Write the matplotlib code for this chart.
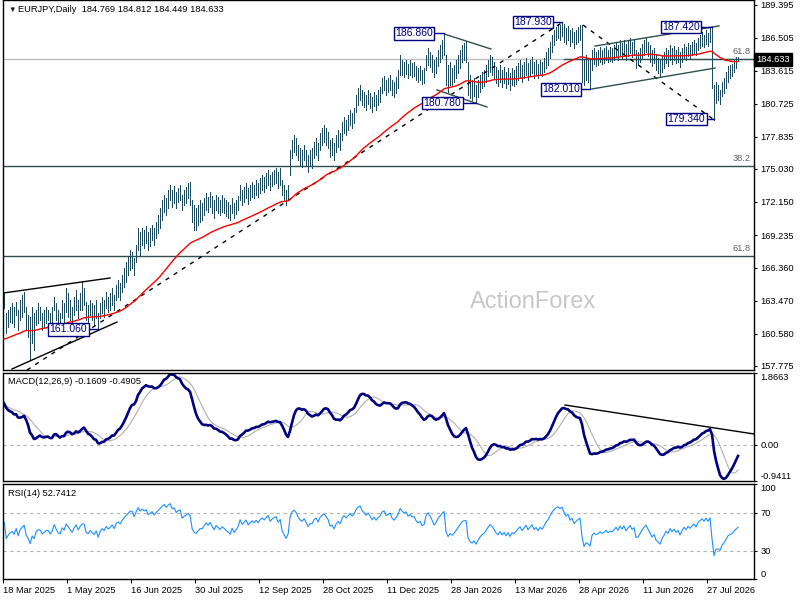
import matplotlib
matplotlib.use("Agg")
import matplotlib.pyplot as plt
import matplotlib.transforms as mtransforms
import numpy as np

plt.rcParams['font.family'] = ['Liberation Sans', 'DejaVu Sans']

# daily EURJPY bars, 18 Mar 2025 .. Aug 2026
highs = [
    164.16, 162.41, 162.67, 162.94, 163.29, 162.94, 163.37, 162.67, 163.55, 163.99, 164.25, 162.94, 162.24, 162.06, 162.94, 162.41,
    162.67, 163.29, 162.94, 162.41, 162.67, 162.94, 162.67, 162.41, 162.94, 163.81, 163.29, 162.67, 162.41, 163.55, 163.29, 164.60,
    164.16, 163.55, 162.94, 163.81, 164.43, 163.55, 164.16, 165.13, 164.60, 163.37, 163.11, 163.55, 163.29, 163.11, 163.55, 162.41,
    163.29, 163.81, 163.55, 164.25, 163.81, 164.16, 164.60, 163.99, 164.87, 165.31, 165.04, 165.74, 166.35, 166.88, 167.32, 167.93,
    167.75, 167.23, 168.37, 169.86, 169.51, 169.86, 169.69, 170.03, 169.51, 169.86, 170.12, 169.86, 170.38, 171.00, 171.61, 172.31,
    172.75, 172.48, 173.19, 173.62, 173.19, 173.54, 173.01, 173.36, 173.62, 172.75, 173.19, 173.45, 173.80, 173.89, 172.31, 171.87,
    171.61, 171.87, 172.31, 172.05, 172.48, 172.92, 172.57, 173.01, 172.66, 172.31, 172.75, 172.57, 172.31, 172.75, 172.48, 172.31,
    172.14, 171.87, 172.48, 172.05, 172.31, 172.66, 173.62, 173.19, 173.45, 173.80, 173.36, 173.62, 173.89, 173.62, 174.06, 173.80,
    174.24, 174.50, 174.33, 174.68, 174.94, 174.50, 174.76, 174.94, 175.11, 174.76, 175.11, 174.06, 173.62, 173.19, 173.62, 176.69,
    177.57, 178.00, 177.74, 177.13, 176.86, 176.69, 177.13, 176.69, 176.25, 176.69, 176.86, 177.39, 177.74, 177.30, 178.18, 178.62,
    178.88, 178.62, 178.27, 177.57, 177.74, 177.30, 178.00, 178.44, 178.18, 179.14, 179.58, 179.32, 179.76, 180.19, 179.93, 180.37,
    181.51, 182.12, 182.39, 181.95, 181.77, 181.51, 181.95, 181.68, 181.33, 181.77, 181.51, 181.95, 182.21, 183.00, 183.17, 182.82,
    183.00, 183.26, 182.82, 182.65, 183.09, 183.70, 185.01, 184.57, 184.40, 184.57, 184.22, 184.57, 184.31, 184.40, 184.05, 183.87,
    184.05, 183.70, 183.87, 185.01, 185.63, 185.28, 185.01, 184.57, 184.84, 185.45, 185.89, 186.33, 186.86, 185.01, 184.14, 184.40,
    183.87, 184.14, 184.57, 185.01, 185.45, 185.89, 186.06, 186.24, 184.40, 183.26, 182.82, 183.00, 182.38, 182.82, 183.26, 183.52,
    183.70, 184.14, 184.57, 185.01, 184.84, 184.40, 183.96, 183.70, 184.14, 183.70, 183.96, 183.52, 183.87, 183.44, 183.87, 183.70,
    184.05, 184.31, 184.57, 184.14, 184.40, 184.75, 184.31, 184.57, 184.84, 184.40, 184.57, 184.22, 184.57, 184.40, 184.75, 185.28,
    185.63, 186.15, 186.77, 187.20, 187.46, 187.72, 187.64, 187.93, 187.72, 187.37, 187.55, 187.20, 187.37, 187.02, 187.20, 187.46,
    187.64, 187.64, 184.57, 185.01, 184.75, 184.57, 185.45, 185.63, 185.28, 185.45, 185.71, 185.45, 185.63, 185.80, 185.45, 185.71,
    185.63, 185.89, 186.15, 185.89, 186.33, 186.06, 186.33, 185.98, 186.24, 186.50, 186.15, 186.33, 185.45, 185.28, 185.63, 185.98,
    186.33, 186.50, 186.15, 185.89, 185.45, 185.63, 185.01, 184.75, 184.57, 185.01, 185.28, 185.63, 185.45, 185.89, 185.63, 185.80,
    185.45, 185.71, 185.28, 185.63, 185.98, 185.71, 186.06, 185.89, 186.15, 186.33, 186.06, 186.50, 186.77, 187.02, 186.77, 187.20,
    186.94, 187.38, 187.42, 182.38, 182.65, 182.38, 181.95, 182.65, 183.00, 183.52, 184.05, 184.14, 184.22, 184.57, 184.84, 184.812,
]
lows = [
    162.85, 160.66, 161.19, 161.62, 161.53, 161.19, 162.24, 160.92, 161.80, 162.06, 162.50, 160.92, 160.31, 158.29, 159.78, 159.17,
    161.36, 161.53, 161.80, 160.92, 161.19, 161.53, 161.80, 160.92, 161.36, 162.67, 161.80, 161.19, 161.19, 161.97, 161.53, 162.50,
    162.06, 161.80, 161.53, 162.24, 162.67, 161.97, 162.67, 162.67, 163.11, 161.80, 161.62, 162.24, 161.80, 161.36, 161.97, 161.06,
    161.97, 162.41, 162.06, 162.85, 162.50, 162.67, 163.11, 162.67, 163.55, 163.81, 163.55, 164.25, 164.69, 165.13, 165.74, 166.18,
    166.35, 165.74, 166.88, 167.93, 167.49, 168.37, 168.11, 168.54, 167.93, 168.28, 168.81, 168.37, 168.98, 169.42, 169.86, 170.56,
    171.26, 171.00, 171.61, 172.31, 171.70, 172.05, 171.61, 172.14, 172.31, 171.44, 171.87, 172.05, 172.48, 171.87, 170.38, 169.68,
    169.68, 170.12, 170.38, 170.56, 171.00, 171.44, 171.26, 171.70, 171.17, 170.73, 171.44, 171.17, 171.00, 171.26, 171.17, 170.91,
    170.73, 170.56, 171.17, 170.73, 171.08, 171.44, 172.31, 171.87, 172.14, 172.48, 171.96, 172.31, 172.57, 172.48, 172.75, 172.57,
    172.92, 173.19, 173.01, 173.36, 173.62, 173.19, 173.54, 173.71, 173.80, 173.36, 173.62, 172.75, 172.31, 171.87, 172.31, 174.50,
    175.99, 176.51, 176.25, 175.81, 175.38, 175.20, 175.81, 175.38, 174.76, 175.29, 175.11, 175.99, 176.25, 175.81, 176.69, 177.13,
    177.39, 177.13, 176.86, 176.08, 176.25, 175.81, 176.51, 176.95, 176.69, 177.57, 178.18, 178.00, 178.44, 178.88, 178.62, 179.06,
    180.02, 180.63, 181.07, 180.63, 180.46, 180.19, 180.72, 180.37, 180.02, 180.54, 180.19, 180.63, 180.89, 181.68, 181.95, 181.51,
    181.77, 181.95, 181.51, 181.33, 181.68, 182.12, 183.26, 183.26, 183.09, 183.35, 183.00, 183.26, 183.09, 183.17, 182.82, 182.65,
    182.82, 182.47, 182.56, 183.70, 184.14, 183.96, 183.52, 183.08, 183.44, 184.05, 184.40, 184.75, 185.01, 182.38, 181.77, 182.38,
    182.38, 182.65, 183.00, 183.44, 183.87, 184.40, 184.57, 184.40, 181.51, 181.24, 181.07, 181.42, 180.78, 181.33, 181.77, 182.12,
    182.30, 182.65, 183.17, 183.52, 183.26, 183.00, 182.56, 182.30, 182.65, 182.21, 182.56, 182.12, 182.47, 181.95, 182.38, 182.30,
    182.47, 182.82, 183.00, 182.65, 183.00, 183.26, 182.82, 183.17, 183.44, 183.00, 183.26, 183.00, 183.35, 183.17, 183.52, 183.87,
    184.14, 184.75, 185.28, 185.89, 186.33, 186.50, 186.33, 186.68, 186.15, 185.98, 186.33, 185.80, 186.15, 185.63, 185.98, 186.15,
    186.33, 182.65, 182.38, 182.82, 182.65, 182.01, 183.70, 184.22, 184.05, 184.14, 184.40, 184.22, 184.31, 184.57, 184.40, 184.49,
    184.40, 184.57, 184.84, 184.57, 185.01, 184.75, 185.10, 184.57, 184.92, 185.19, 184.84, 185.01, 183.87, 184.14, 184.40, 184.75,
    185.01, 185.28, 184.92, 184.40, 184.05, 184.31, 183.70, 183.44, 183.08, 183.52, 183.87, 184.31, 184.05, 184.57, 184.22, 184.57,
    184.31, 184.40, 183.96, 184.40, 184.75, 184.57, 184.92, 184.75, 185.01, 185.19, 185.01, 185.45, 185.63, 185.80, 185.71, 185.98,
    185.80, 186.15, 182.12, 179.34, 180.81, 181.07, 180.72, 181.42, 181.68, 182.12, 182.65, 183.00, 183.17, 183.52, 183.87, 184.449,
]

date_labels = ['18 Mar 2025', '1 May 2025', '16 Jun 2025', '30 Jul 2025', '12 Sep 2025', '28 Oct 2025',
               '11 Dec 2025', '28 Jan 2026', '13 Mar 2026', '28 Apr 2026', '11 Jun 2026', '27 Jul 2026']
date_pos = [0, 32, 64, 96, 128, 160, 192, 224, 256, 288, 320, 352]

price_ticks = [189.395, 186.505, 183.615, 180.725, 177.835, 175.030, 172.150, 169.235, 166.360, 163.470, 160.580, 157.775]
last_price = 184.633
fib_levels = [(175.30, '38.2'), (167.40, '61.8')]
fib_upper = 184.65

# swing labels: (bar, price)
swings = [(220, 186.860), (236, 180.780), (279, 187.930), (293, 182.010), (354, 187.420), (355, 179.340), (47, 161.060)]

# starting states of the indicators, read from the left edge
ma_period = 55
ma_seed = 160.0
macd_seeds = (161.6, 160.6)
rsi_seed = (0.24, 0.16)

bar_color = '#1f4b5e'
navy = '#000080'
slate = '#2f4f4f'
fs = 6.7


def ema(vals, period, seed):
    a = 2.0 / (period + 1)
    out = []
    prev = seed
    for v in vals:
        prev = prev + a * (v - prev)
        out.append(prev)
    return np.array(out)


highs = np.array(highs)
lows = np.array(lows)
idx = np.arange(len(highs))
price = (highs + lows) / 2

ma = ema(price, ma_period, ma_seed)
macd = ema(price, 12, macd_seeds[0]) - ema(price, 26, macd_seeds[1])
signal = np.array([macd[max(0, i - 8):i + 1].mean() for i in range(len(macd))])

ag, al = rsi_seed
rsi = []
prev = price[0]
for p in price:
    d = p - prev
    prev = p
    ag = (ag * 13 + max(d, 0)) / 14
    al = (al * 13 + max(-d, 0)) / 14
    rsi.append(100 - 100 / (1 + ag / al))
rsi = np.array(rsi)

fig = plt.figure(figsize=(8, 6), dpi=100)
ax = fig.add_axes([3 / 800, 1 - 370 / 600, 751 / 800, 370 / 600])
ax2 = fig.add_axes([3 / 800, 1 - 481 / 600, 751 / 800, 108 / 600])
ax3 = fig.add_axes([3 / 800, 1 - 579 / 600, 751 / 800, 95 / 600])

for a in (ax, ax2, ax3):
    a.set_xlim(-0.5, 375)
    a.yaxis.tick_right()
    a.tick_params(axis='y', length=2.5, pad=2, labelsize=fs, width=0.8)
    for sp in a.spines.values():
        sp.set_linewidth(1)
        sp.set_color('black')

# main price panel
ax.set_ylim(157.42, 189.833)
ax.set_xticks([])
ax.set_yticks(price_ticks)
ax.set_yticklabels(['%.3f' % t for t in price_ticks])

ax.text(264.5, 163.38, 'ActionForex', fontsize=17, color='#c8c8c8', ha='center', va='center', zorder=0)
ax.axhline(last_price, color='#c0c0c0', lw=1, zorder=1)
for lev, name in fib_levels:
    ax.axhline(lev, color=slate, lw=1, zorder=1)
    ax.text(373.5, lev + 0.25, name, fontsize=fs, color='#606060', ha='right', va='bottom')
ax.plot([280, 375], [fib_upper, fib_upper], color=slate, lw=1, zorder=1)
ax.text(373.5, fib_upper + 0.25, '61.8', fontsize=fs, color='#606060', ha='right', va='bottom')

ax.vlines(idx, lows, highs, color=bar_color, lw=0.72, zorder=2, antialiased=False)
ax.plot(idx, ma, color='red', lw=1, zorder=3)

# trend lines
ax.plot([-0.5, 53], [164.16, 165.48], color='black', lw=1)
ax.plot([4, 56.5], [157.51, 161.62], color='black', lw=1)
ax.plot([11.5, 279.5], [157.42, 187.91], color='black', lw=1, ls=(0, (3, 4)))
ax.plot([289.5, 355], [187.64, 179.34], color='black', lw=1, ls=(0, (3, 4)))
ax.plot([220, 243.5], [186.86, 185.54], color=slate, lw=1)
ax.plot([216.5, 241.5], [181.95, 180.46], color=slate, lw=1)
ax.plot([295.5, 357.5], [185.80, 187.56], color=slate, lw=1)
ax.plot([294, 355.5], [182.04, 183.87], color=slate, lw=1)

# swing labels (box centre offsets in bars)
box_off = {220: (-15, 0.04), 236: (-16.75, 0.03), 279: (-14.5, -0.03), 293: (-14.5, 0.0),
           354: (-15.5, 0.05), 355: (-13.75, 0.06), 47: (-14.75, -0.09)}
for bar, val in swings:
    dx, dy = box_off[bar]
    ax.plot([bar + dx + 10.5, bar], [val + dy, val + dy], color=navy, lw=1, zorder=4)
    ax.text(bar + dx, val + dy, '%.3f' % val, fontsize=7.5, color=navy, ha='center', va='center',
            zorder=5, bbox=dict(boxstyle='square,pad=0.12', fc='white', ec=navy, lw=1))

trans = mtransforms.blended_transform_factory(ax.transAxes, ax.transData)
ax.text(1.003, last_price, '%.3f' % last_price, transform=trans, fontsize=fs, color='white',
        ha='left', va='center', bbox=dict(boxstyle='square,pad=0.2', fc='black', ec='black'))

ax.text(0.007, 0.973, '\u25bc', transform=ax.transAxes, fontsize=5.5, color='#202020', va='center', ha='left')
ax.text(0.02, 0.973, 'EURJPY,Daily  184.769 184.812 184.449 184.633', transform=ax.transAxes,
        fontsize=fs, color='black', va='center', ha='left')

# MACD panel
ax2.set_ylim(-0.9411, 1.8663)
ax2.set_xticks([])
ax2.set_yticks([-0.9411, 0, 1.8663])
ax2.set_yticklabels(['-0.9411', '0.00', '1.8663'])
lab = ax2.get_yticklabels()
lab[0].set_va('bottom')
lab[2].set_va('top')
ax2.axhline(0, color='#b4b4b4', lw=0.8, ls=(0, (3, 3)))
ax2.plot(idx, signal, color='#b0b0b0', lw=0.8)
ax2.plot(idx, macd, color=navy, lw=1.9)
ax2.plot([280.5, 375], [1.034, 0.281], color='black', lw=1)
ax2.text(0.006, 0.92, 'MACD(12,26,9) -0.1609 -0.4905', transform=ax2.transAxes, fontsize=fs, va='center')

# RSI panel
ax3.set_ylim(0, 100)
ax3.set_yticks([0, 30, 70, 100])
ax3.set_yticklabels(['0', '30', '70', '100'])
lab = ax3.get_yticklabels()
lab[0].set_va('bottom')
lab[3].set_va('top')
for lev in (70, 30):
    ax3.axhline(lev, color='#b4b4b4', lw=0.8, ls=(0, (3, 3)))
ax3.plot(idx, rsi, color='#1e90ff', lw=0.8)
ax3.text(0.006, 0.9, 'RSI(14) 52.7412', transform=ax3.transAxes, fontsize=fs, va='center')
ax3.set_xticks([p - 0.6 for p in date_pos])
ax3.set_xticklabels(date_labels, ha='left')
ax3.tick_params(axis='x', length=3, pad=2, labelsize=fs, width=0.8)

fig.savefig('out.png', dpi=100, facecolor='white')
